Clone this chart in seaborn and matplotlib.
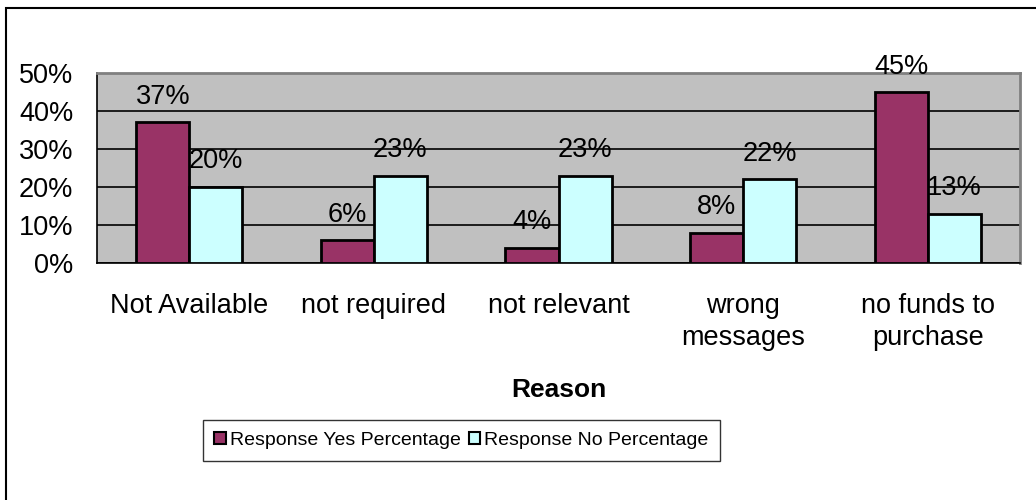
import matplotlib
matplotlib.use("Agg")
import matplotlib.pyplot as plt
from matplotlib.patches import Rectangle
import pandas as pd
import seaborn as sns

# Survey results by reason
reasons = ["Not Available", "not required", "not relevant", "wrong\nmessages", "no funds to\npurchase"]
yes_pct = [37, 6, 4, 8, 45]
no_pct = [20, 23, 23, 22, 13]
series_names = ["Response Yes Percentage", "Response No Percentage"]
y_ticks = [0, 10, 20, 30, 40, 50]

sns.set_style("white")
plt.rcParams["font.family"] = ["Liberation Sans", "DejaVu Sans"]
plt.rcParams["text.color"] = "black"
plt.rcParams["axes.labelcolor"] = "black"
plt.rcParams["xtick.color"] = "black"
plt.rcParams["ytick.color"] = "black"

df = pd.DataFrame({
    "Reason": reasons * 2,
    "Value": yes_pct + no_pct,
    "Series": [series_names[0]] * len(reasons) + [series_names[1]] * len(reasons),
})

fig = plt.figure(figsize=(10.36, 5.0), dpi=100)
fig.patch.set_facecolor("white")
ax = fig.add_axes([97 / 1036, 1 - 263 / 500, (1020 - 97) / 1036, (263 - 73) / 500])

sns.barplot(data=df, x="Reason", y="Value", hue="Series", order=reasons,
            hue_order=series_names, palette=["#993366", "#CCFFFF"], saturation=1,
            edgecolor="black", linewidth=2, width=0.575, gap=0,
            errorbar=None, ax=ax, legend=True, zorder=3)

ax.set_facecolor("#C0C0C0")
ax.set_xlim(-0.5, len(reasons) - 0.5)
ax.set_ylim(0, 50)
ax.set_yticks(y_ticks)
ax.set_yticklabels([f"{v}%" for v in y_ticks])
ax.yaxis.grid(True, color="black", linewidth=1.2)
ax.set_axisbelow(True)

for side in ["top", "right", "left", "bottom"]:
    ax.spines[side].set_visible(True)
ax.spines["top"].set_color("#808080")
ax.spines["right"].set_color("#808080")
ax.spines["top"].set_linewidth(2)
ax.spines["right"].set_linewidth(2)
ax.spines["left"].set_color("black")
ax.spines["bottom"].set_color("black")
ax.spines["left"].set_linewidth(1.2)
ax.spines["bottom"].set_linewidth(1.2)

# category boundary ticks
ax.set_xticks([i - 0.5 for i in range(len(reasons) + 1)], minor=True)
ax.tick_params(axis="x", which="minor", length=6, width=1.2, color="black", direction="out")
ax.tick_params(axis="x", which="major", length=0, pad=21.5, labelsize=19.5)
for lbl in ax.get_xticklabels():
    lbl.set_linespacing(1.32)
ax.tick_params(axis="y", length=6, width=1.2, color="black", direction="out", pad=11, labelsize=19.5)
ax.set_xlabel("Reason", fontsize=19, fontweight="bold", labelpad=19)
ax.set_ylabel("")

for cont, vals in zip(ax.containers, [yes_pct, no_pct]):
    ax.bar_label(cont, labels=[f"{v}%" for v in vals], padding=9, fontsize=19.5)

handles, labels = ax.get_legend_handles_labels()
ax.get_legend().remove()
leg = fig.legend(handles, labels, loc="center", bbox_to_anchor=(461.5 / 1036, 1 - 440.5 / 500),
                 ncol=2, fontsize=14, frameon=True, fancybox=False, edgecolor="black",
                 handlelength=0.6, handleheight=0.6, handletextpad=0.2, columnspacing=0.4,
                 borderpad=0.6, borderaxespad=0)
leg.get_frame().set_linewidth(1)
for h in leg.legend_handles:
    h.set_edgecolor("black")
    h.set_linewidth(1.5)

# outer chart frame
fig.patches.append(Rectangle((6 / 1036, -0.1), 1.2, 1.1 - 8 / 500, transform=fig.transFigure,
                             fill=False, edgecolor="black", linewidth=1.5))

fig.savefig("out.png", dpi=100)
